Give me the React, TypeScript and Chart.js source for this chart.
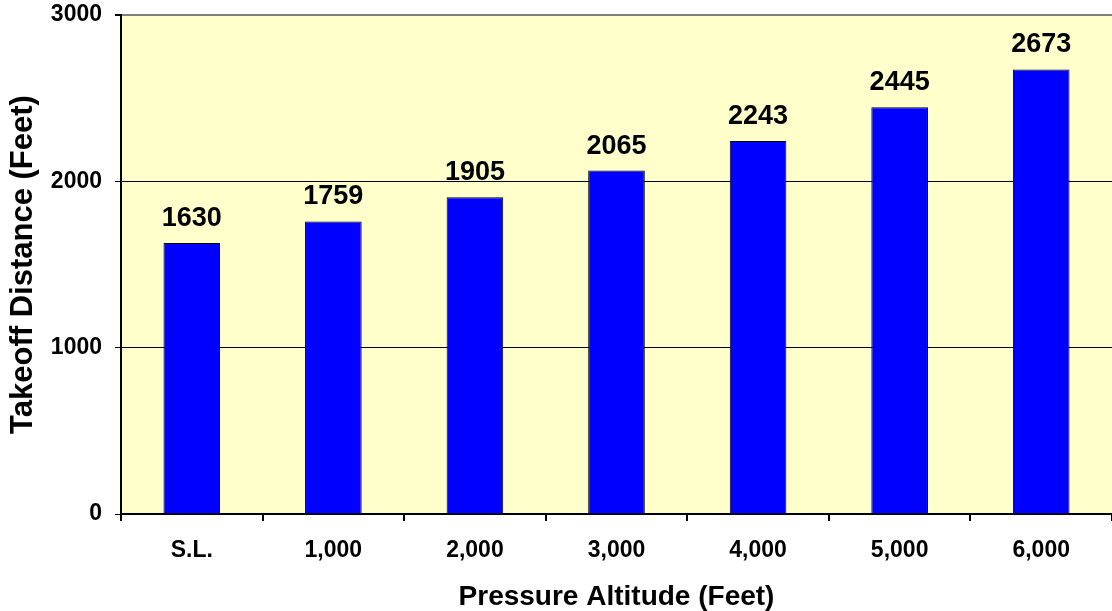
import React, { useEffect, useRef } from "react";
import { Chart, registerables } from "chart.js";

Chart.register(...registerables);

const categories = ["S.L.", "1,000", "2,000", "3,000", "4,000", "5,000", "6,000"];
const takeoffDistance = [1630, 1759, 1905, 2065, 2243, 2445, 2673];
const yTicks = [0, 1000, 2000, 3000];
const xTitle = "Pressure Altitude (Feet)";
const yTitle = "Takeoff Distance (Feet)";

const FONT = "'Liberation Sans', Arial, Helvetica, sans-serif";

const plotBackground = {
  id: "plotBackground",
  beforeDraw(chart: any) {
    const { ctx, chartArea } = chart;
    ctx.save();
    ctx.fillStyle = "#FFFFCC";
    ctx.fillRect(chartArea.left, chartArea.top, chartArea.right - chartArea.left, chartArea.bottom - chartArea.top);
    ctx.restore();
  },
};

const valueLabels = {
  id: "valueLabels",
  afterDatasetsDraw(chart: any) {
    const { ctx } = chart;
    const meta = chart.getDatasetMeta(0);
    const data = chart.data.datasets[0].data;
    ctx.save();
    ctx.font = `bold 27px ${FONT}`;
    ctx.fillStyle = "#000";
    ctx.textAlign = "center";
    ctx.textBaseline = "alphabetic";
    meta.data.forEach((bar: any, i: number) => {
      ctx.fillText(String(data[i]), bar.x, bar.y - 17);
    });
    ctx.restore();
  },
};

export default function App() {
  const canvasRef = useRef<HTMLCanvasElement | null>(null);

  useEffect(() => {
    document.body.style.margin = "0";
    const canvas = canvasRef.current;
    if (!canvas) return;
    const chart = new Chart(canvas, {
      type: "bar",
      data: {
        labels: categories,
        datasets: [
          {
            data: takeoffDistance,
            backgroundColor: "#0000FF",
            borderColor: "#000000",
            borderWidth: 1,
            barPercentage: 0.4,
            categoryPercentage: 1,
          },
        ],
      },
      options: {
        responsive: false,
        animation: false,
        layout: { padding: { top: 15, right: 0, left: 0, bottom: 0 } },
        plugins: {
          legend: { display: false },
          tooltip: { enabled: false },
        },
        scales: {
          x: {
            offset: true,
            grid: {
              offset: true,
              drawOnChartArea: false,
              drawTicks: true,
              tickLength: 7,
              tickColor: "#000",
              color: "#000",
              lineWidth: 2,
            },
            border: { color: "#000", width: 2 },
            ticks: {
              color: "#000",
              font: { family: FONT, size: 23, weight: "bold" },
              padding: 16,
              maxRotation: 0,
              autoSkip: false,
            },
            title: {
              display: true,
              text: xTitle,
              color: "#000",
              font: { family: FONT, size: 28, weight: "bold", lineHeight: 1 },
              padding: { top: 0, bottom: 0 },
            },
            afterFit(scale: any) {
              scale.height = 97;
              scale.paddingLeft = 0;
              scale.paddingRight = 0;
            },
          },
          y: {
            min: 0,
            max: 3000,
            afterBuildTicks(scale: any) {
              scale.ticks = yTicks.map((v) => ({ value: v }));
            },
            grid: {
              color: (ctx: any) => (ctx.tick && ctx.tick.value === 3000 ? "#808080" : "#000"),
              lineWidth: (ctx: any) => (ctx.tick && ctx.tick.value === 3000 ? 2 : 1),
              tickColor: "#000",
              tickLength: 6,
              drawTicks: true,
            },
            border: { color: "#000", width: 2 },
            ticks: {
              color: "#000",
              font: { family: FONT, size: 23, weight: "bold" },
              padding: 13,
              callback: (v: any) => String(v),
            },
            title: {
              display: true,
              text: yTitle,
              color: "#000",
              font: { family: FONT, size: 31, weight: "bold", lineHeight: 1 },
              padding: { top: 8, bottom: 0 },
            },
            afterFit(scale: any) {
              scale.width = 121;
              scale.paddingTop = 0;
              scale.paddingBottom = 0;
            },
          },
        },
      },
      plugins: [plotBackground, valueLabels],
    });
    return () => chart.destroy();
  }, []);

  return (
    <div style={{ width: 1112, height: 611 }}>
      <canvas ref={canvasRef} width={1112} height={611} style={{ display: "block" }} />
    </div>
  );
}
